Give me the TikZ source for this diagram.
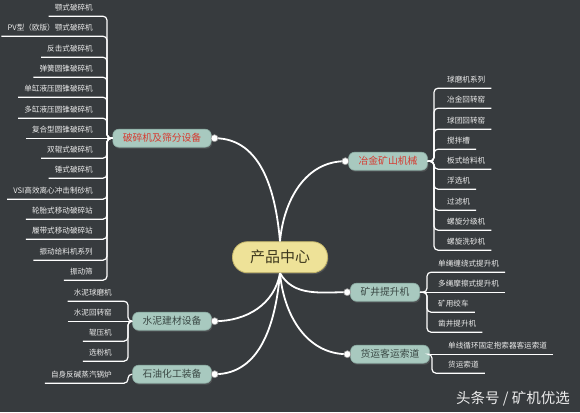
\documentclass[tikz,border=0pt]{standalone}
\usepackage{fontspec}
\setmainfont{Noto Sans CJK SC}
\usetikzlibrary{shadows}
\definecolor{bgdark}{RGB}{55,59,62}
\definecolor{branchfill}{RGB}{168,201,191}
\definecolor{branchedge}{RGB}{140,172,163}
\definecolor{redtext}{RGB}{214,58,48}
\definecolor{darktext}{RGB}{58,72,68}
\definecolor{hubfill}{RGB}{238,226,152}
\definecolor{hubedge}{RGB}{196,182,106}
\definecolor{hubtext}{RGB}{62,56,30}
\definecolor{leaftext}{RGB}{236,236,236}
\definecolor{knobedge}{RGB}{150,150,150}

\begin{document}
\begin{tikzpicture}[x=1pt,y=-1pt,
  hub/.style={rounded corners=15pt, fill=hubfill, draw=hubedge, line width=0.8pt, text=hubtext,
    font=\fontsize{15}{16}\selectfont, minimum width=95pt, minimum height=31pt, inner sep=0pt,
    drop shadow={opacity=0.35, shadow xshift=1pt, shadow yshift=-1.5pt}},
  branch/.style={rounded corners=6pt, fill=branchfill, draw=branchedge, line width=0.6pt,
    font=\fontsize{9.8}{10}\selectfont, inner xsep=10pt, inner ysep=0pt, minimum height=18pt,
    text height=7.5pt, text depth=1.5pt,
    drop shadow={opacity=0.35, shadow xshift=1pt, shadow yshift=-1.5pt}},
  leaf/.style={font=\fontsize{7.6}{8}\selectfont, text=leaftext, inner xsep=6pt, inner ysep=4.5pt,
    text height=6pt, text depth=1pt},
  ll/.style={leaf, anchor=south east},
  lr/.style={leaf, anchor=south west},
  twig/.style={draw=white, line width=1.2pt, rounded corners=4pt},
  limb/.style={draw=white, line width=1.8pt},
  knob/.style={fill=white, draw=knobedge, line width=0.6pt}]
\fill[bgdark] (0,0) rectangle (580,412);

\node[hub] (pc) at (280,257) {产品中心};

\node[branch, text=redtext] (crush) at (162,138) {破碎机及筛分设备};
\node[branch, text=redtext] (metal) at (388,161) {冶金矿山机械};
\node[branch, text=darktext] (hoist) at (385,292) {矿井提升机};
\node[branch, text=darktext] (rope) at (390,354) {货运客运索道};
\node[branch, text=darktext] (cement) at (172,321) {水泥建材设备};
\node[branch, text=darktext] (petro) at (172,374) {石油化工装备};

\coordinate (crushT) at (107,138);
\coordinate (metalT) at (434,161);
\coordinate (hoistT) at (427,292);
\coordinate (ropeT) at (432,354);
\coordinate (cementT) at (128,321);
\coordinate (petroT) at (128,374);

\node[ll] (crush1) at (99,16) {颚式破碎机};
\node[ll] (crush2) at (99,36) {PV型（欧版）颚式破碎机};
\node[ll] (crush3) at (99,57) {反击式破碎机};
\node[ll] (crush4) at (99,77) {弹簧圆锥破碎机};
\node[ll] (crush5) at (99,97) {单缸液压圆锥破碎机};
\node[ll] (crush6) at (99,118) {多缸液压圆锥破碎机};
\node[ll] (crush7) at (99,138) {复合型圆锥破碎机};
\node[ll] (crush8) at (99,158) {双辊式破碎机};
\node[ll] (crush9) at (99,178) {锤式破碎机};
\node[ll] (crush10) at (99,199) {VSI高效离心冲击制砂机};
\node[ll] (crush11) at (99,219) {轮胎式移动破碎站};
\node[ll] (crush12) at (99,239) {履带式移动破碎站};
\node[ll] (crush13) at (99,260) {振动给料机系列};
\node[ll] (crush14) at (99,280) {振动筛};

\node[lr] (metal1) at (441,88) {球磨机系列};
\node[lr] (metal2) at (441,108) {冶金回转窑};
\node[lr] (metal3) at (441,129) {球团回转窑};
\node[lr] (metal4) at (441,149) {搅拌槽};
\node[lr] (metal5) at (441,169) {板式给料机};
\node[lr] (metal6) at (441,189) {浮选机};
\node[lr] (metal7) at (441,210) {过滤机};
\node[lr] (metal8) at (441,230) {螺旋分级机};
\node[lr] (metal9) at (441,250) {螺旋洗砂机};

\node[lr] (hoist1) at (432,272) {单绳缠绕式提升机};
\node[lr] (hoist2) at (432,292) {多绳摩擦式提升机};
\node[lr] (hoist3) at (432,312) {矿用绞车};
\node[lr] (hoist4) at (432,332) {凿井提升机};

\node[lr] (rope1) at (442,354) {单线循环固定抱索器客运索道};
\node[lr] (rope2) at (442,373) {货运索道};

\node[ll] (cement1) at (118,301) {水泥球磨机};
\node[ll] (cement2) at (118,321) {水泥回转窑};
\node[ll] (cement3) at (118,341) {辊压机};
\node[ll] (cement4) at (118,361) {选粉机};

\node[ll] (petro1) at (118,383) {自身反碱蒸汽锅炉};

\foreach \i in {1,...,6,8,9,...,14}
  \draw[twig] (crush\i.south west) -- (crush\i.south -| crushT) |- (crush.west);
\draw[twig] (crush7.south west) -- (crush.west);
\foreach \i in {1,...,9}
  \draw[twig] (metal\i.south east) -- (metal\i.south -| metalT) |- (metal.east);
\foreach \i in {1,3,4}
  \draw[twig] (hoist\i.south east) -- (hoist\i.south -| hoistT) |- (hoist.east);
\draw[twig] (hoist2.south east) -- (hoist.east);
\draw[twig] (rope1.south east) -- (rope.east);
\draw[twig] (rope2.south east) -- (rope2.south -| ropeT) |- (rope.east);
\foreach \i in {1,3,4}
  \draw[twig] (cement\i.south west) -- (cement\i.south -| cementT) |- (cement.west);
\draw[twig] (cement2.south west) -- (cement.west);
\draw[twig] (petro1.south west) -- (petro1.south -| petroT) |- (petro.west);

\draw[limb] (pc.north) to[out=95,in=0] ([xshift=3pt]crush.east);
\draw[limb] (pc.north) to[out=85,in=180] ([xshift=-3pt]metal.west);
\draw[limb] (pc.south) to[out=-60,in=180] ([xshift=-3pt]hoist.west);
\draw[limb] (pc.south) to[out=-85,in=180] ([xshift=-3pt]rope.west);
\draw[limb] (pc.south) to[out=-100,in=0] ([xshift=3pt]cement.east);
\draw[limb] (pc.south) to[out=-95,in=0] ([xshift=3pt]petro.east);

\filldraw[knob] ([xshift=3pt]crush.east) circle (3.5pt);
\filldraw[knob] ([xshift=-3pt]metal.west) circle (3.5pt);
\filldraw[knob] ([xshift=-3pt]hoist.west) circle (3.5pt);
\filldraw[knob] ([xshift=-3pt]rope.west) circle (3.5pt);
\filldraw[knob] ([xshift=3pt]cement.east) circle (3.5pt);
\filldraw[knob] ([xshift=3pt]petro.east) circle (3.5pt);

\node[font=\fontsize{14.5}{15}\selectfont, text=leaftext, anchor=east, inner sep=0pt] (credit) at (570,398) {头条号 / 矿机优选};
\end{tikzpicture}
\end{document}
